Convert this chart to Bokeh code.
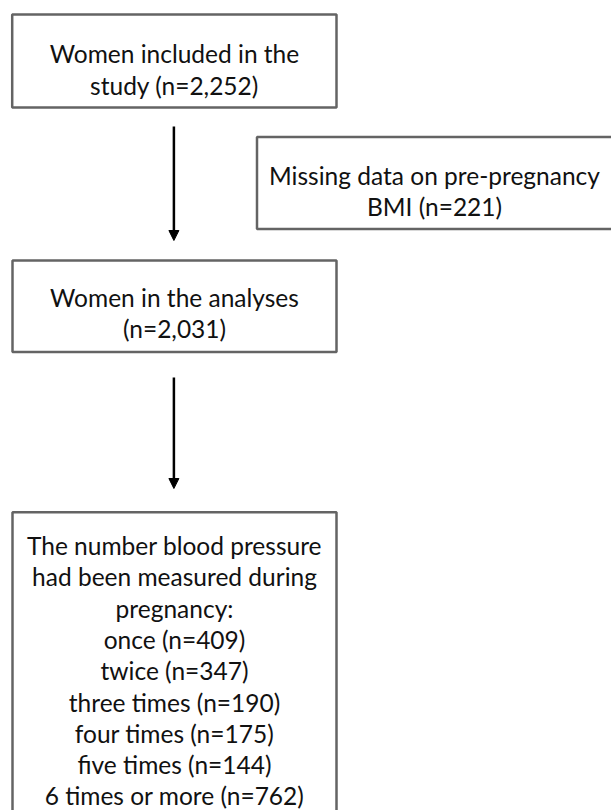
from bokeh.plotting import figure
from bokeh.models import Range1d, Arrow, NormalHead, ColumnDataSource
from bokeh.core.properties import value
from bokeh.embed import file_html
from bokeh.resources import INLINE

# ---- data ----
n_included = 2252
n_missing = 221
n_analysed = 2031
measure_labels = ["once", "twice", "three times", "four times", "five times", "6 times or more"]
measure_counts = [409, 347, 190, 175, 144, 762]

box_lines = [
    ["Women included in the", f"study (n={n_included:,})"],
    ["Missing data on pre-pregnancy", f"BMI (n={n_missing})"],
    ["Women in the analyses", f"(n={n_analysed:,})"],
    ["The number blood pressure", "had been measured during", "pregnancy:"]
    + [f"{lab} (n={c})" for lab, c in zip(measure_labels, measure_counts)],
]

# ---- layout (reference pixel coordinates) ----
box_left = [11.7, 256.5, 12.0, 12.0]
box_right = [336.0, 614.0, 336.0, 336.0]
box_top = [14.0, 136.5, 260.0, 511.7]
box_bottom = [107.0, 228.5, 351.5, 840.0]
text_cx = [174.0, 434.0, 174.0, 174.0]
first_base = [53.3, 175.0, 297.0, 545.0]
line_gap = 31.3

arrows = [(173.4, 126.0, 240.0), (173.4, 377.0, 488.0)]

W, H = 611, 810
p = figure(width=W, height=H, x_range=Range1d(0, W), y_range=Range1d(H, 0),
           output_backend="svg", toolbar_location=None, min_border=0)
p.axis.visible = False
p.grid.visible = False
p.outline_line_color = None
p.background_fill_color = "white"
p.border_fill_color = "white"

p.quad(left=box_left, right=box_right, top=box_top, bottom=box_bottom,
       fill_color="white", line_color="#646464", line_width=2.5)

xs, ys, ts = [], [], []
for i, lines in enumerate(box_lines):
    for j, t in enumerate(lines):
        xs.append(text_cx[i])
        ys.append(first_base[i] + j * line_gap)
        ts.append(t)
src = ColumnDataSource(dict(x=xs, y=ys, t=ts))
p.text(x="x", y="y", text="t", source=src, text_align="center", text_baseline="alphabetic",
       text_font=value("Lato"), text_font_size="24.5px", text_color="#111111")

for (x, y0, y1) in arrows:
    p.add_layout(Arrow(end=NormalHead(size=10, fill_color="black", line_color="black", line_width=1),
                       x_start=x, y_start=y0, x_end=x, y_end=y1,
                       line_color="black", line_width=2.5))

open("out.html", "w").write(file_html(p, INLINE))
